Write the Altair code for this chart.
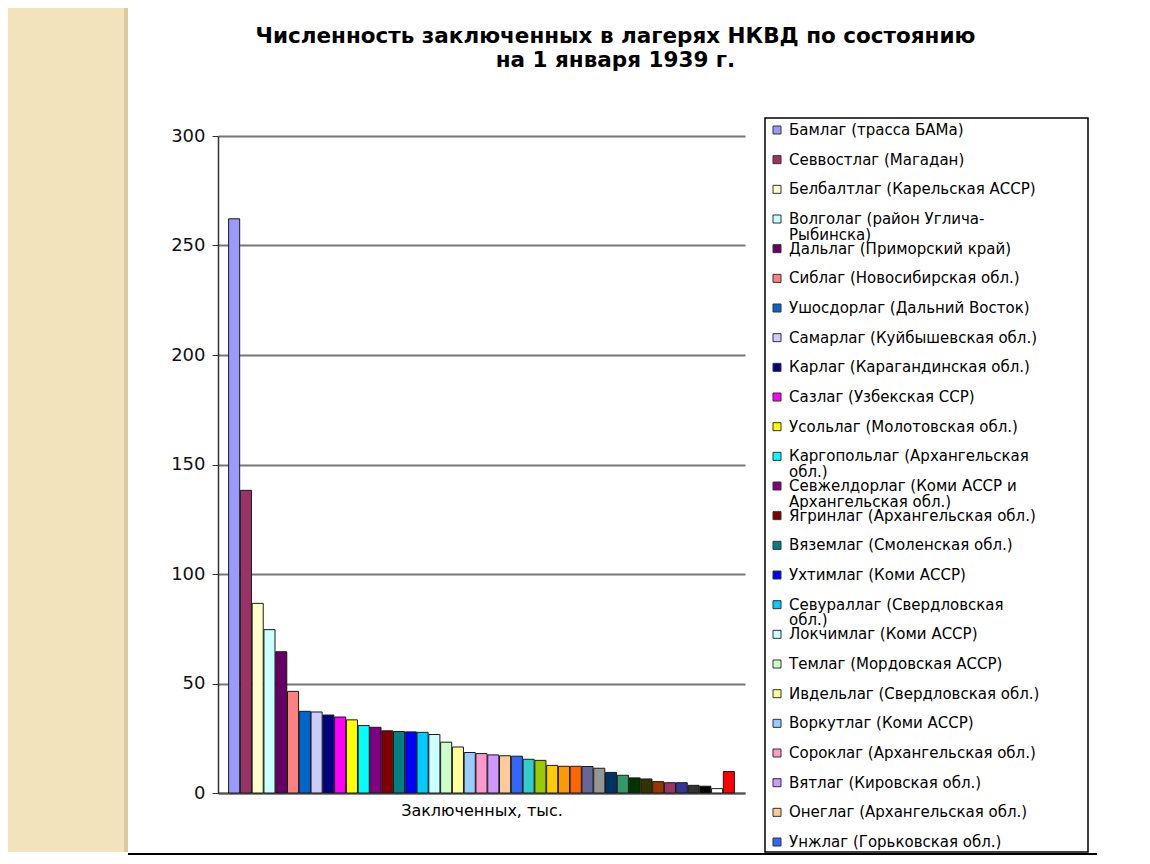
import altair as alt
import pandas as pd

FONT = "DejaVu Sans"

title_lines = ["Численность заключенных в лагерях НКВД по состоянию", "на 1 января 1939 г."]
x_title = "Заключенных, тыс."
y_ticks = [0, 50, 100, 150, 200, 250, 300]

camps = [
    "Бамлаг (трасса БАМа)",
    "Севвостлаг (Магадан)",
    "Белбалтлаг (Карельская АССР)",
    "Волголаг (район Углича-Рыбинска)",
    "Дальлаг (Приморский край)",
    "Сиблаг (Новосибирская обл.)",
    "Ушосдорлаг (Дальний Восток)",
    "Самарлаг (Куйбышевская обл.)",
    "Карлаг (Карагандинская обл.)",
    "Сазлаг (Узбекская ССР)",
    "Усольлаг (Молотовская обл.)",
    "Каргопольлаг (Архангельская обл.)",
    "Севжелдорлаг (Коми АССР и Архангельская обл.)",
    "Ягринлаг (Архангельская обл.)",
    "Вяземлаг (Смоленская обл.)",
    "Ухтимлаг (Коми АССР)",
    "Севураллаг (Свердловская обл.)",
    "Локчимлаг (Коми АССР)",
    "Темлаг (Мордовская АССР)",
    "Ивдельлаг (Свердловская обл.)",
    "Воркутлаг (Коми АССР)",
    "Сороклаг (Архангельская обл.)",
    "Вятлаг (Кировская обл.)",
    "Онеглаг (Архангельская обл.)",
    "Унжлаг (Горьковская обл.)",
    "Устьвымлаг (Коми АССР)",
    "Тайшетлаг (Иркутская обл.)",
    "Краслаг (Красноярский край)",
    "Норильлаг (Красноярский край)",
    "Кулойлаг (Архангельская обл.)",
    "Томасинлаг (Свердловская обл.)",
    "Ныроблаг (Молотовская обл.)",
    "Амурлаг (Хабаровский край)",
    "Райчихлаг (Хабаровский край)",
    "Буреялаг (Хабаровский край)",
    "Южлаг (Хабаровский край)",
    "Западлаг (Хабаровский край)",
    "Восточлаг (Хабаровский край)",
    "Ухтижемлаг (Коми АССР)",
    "Соликамлаг (Молотовская обл.)",
    "Тагиллаг (Свердловская обл.)",
    "Прочие лагеря",
    "Колонии",
]

prisoners = [
    262.2, 138.2, 86.6, 74.6, 64.5, 46.4, 37.3, 37.0, 35.6, 34.7,
    33.4, 30.8, 30.0, 28.4, 28.1, 27.9, 27.7, 26.7, 23.2, 21.0,
    18.5, 18.0, 17.4, 17.0, 16.8, 15.4, 14.9, 12.6, 12.2, 12.2,
    12.1, 11.3, 9.4, 8.1, 6.9, 6.4, 5.2, 4.7, 4.7, 3.5,
    3.1, 2.0, 9.8,
]

colors = [
    "#9999FF", "#993366", "#FFFFCC", "#CCFFFF", "#660066", "#FF8080", "#0066CC", "#CCCCFF",
    "#000080", "#FF00FF", "#FFFF00", "#00FFFF", "#800080", "#800000", "#008080", "#0000FF",
    "#00CCFF", "#CCFFFF", "#CCFFCC", "#FFFF99", "#99CCFF", "#FF99CC", "#CC99FF", "#FFCC99",
    "#3366FF", "#33CCCC", "#99CC00", "#FFCC00", "#FF9900", "#FF6600", "#666699", "#969696",
    "#003366", "#339966", "#003300", "#333300", "#993300", "#993366", "#333399", "#333333",
    "#000000", "#FFFFFF", "#FF0000",
]

legend_labels = [
    "Бамлаг (трасса БАМа)",
    "Севвостлаг (Магадан)",
    "Белбалтлаг (Карельская АССР)",
    "Волголаг (район Углича-\nРыбинска)",
    "Дальлаг (Приморский край)",
    "Сиблаг (Новосибирская обл.)",
    "Ушосдорлаг (Дальний Восток)",
    "Самарлаг (Куйбышевская обл.)",
    "Карлаг (Карагандинская обл.)",
    "Сазлаг (Узбекская ССР)",
    "Усольлаг (Молотовская обл.)",
    "Каргопольлаг (Архангельская\nобл.)",
    "Севжелдорлаг (Коми АССР и\nАрхангельская обл.)",
    "Ягринлаг (Архангельская обл.)",
    "Вяземлаг (Смоленская обл.)",
    "Ухтимлаг (Коми АССР)",
    "Севураллаг (Свердловская\nобл.)",
    "Локчимлаг (Коми АССР)",
    "Темлаг (Мордовская АССР)",
    "Ивдельлаг (Свердловская обл.)",
    "Воркутлаг (Коми АССР)",
    "Сороклаг (Архангельская обл.)",
    "Вятлаг (Кировская обл.)",
    "Онеглаг (Архангельская обл.)",
    "Унжлаг (Горьковская обл.)",
]

n_leg = len(legend_labels)
bars_df = pd.DataFrame({"camp": camps, "value": prisoners})
legend_df = pd.DataFrame({"idx": list(range(n_leg)), "camp": camps[:n_leg], "label": legend_labels})
one = pd.DataFrame({"k": [0]})

color_scale = alt.Scale(domain=camps, range=colors)

PLOT_W, PLOT_H = 527, 657

# ---- decorative strip on the left ----
strip_base = alt.Chart(one)
strip = alt.layer(
    strip_base.mark_rect(color="#F2E3BC").encode(
        x=alt.value(0), x2=alt.value(120), y=alt.value(-128), y2=alt.value(716)),
    strip_base.mark_rect(color="#DCCBA0").encode(
        x=alt.value(116), x2=alt.value(120), y=alt.value(-128), y2=alt.value(716)),
    strip_base.mark_rule(color="#000000", strokeWidth=2).encode(
        x=alt.value(120), x2=alt.value(1089), y=alt.value(718)),
).properties(width=190, height=PLOT_H)

# ---- bar chart ----
bars = alt.Chart(bars_df).mark_bar(stroke="#1a1a1a", strokeWidth=1).encode(
    x=alt.X("camp:N", sort=None,
            scale=alt.Scale(paddingInner=0.06, paddingOuter=0.9),
            axis=alt.Axis(labels=False, ticks=False, domainColor="#555555", domainWidth=2,
                          title=x_title, titleFont=FONT, titleFontSize=16,
                          titleFontWeight="normal", titlePadding=9, titleColor="#000000")),
    y=alt.Y("value:Q", scale=alt.Scale(domain=[0, 300], nice=False),
            axis=alt.Axis(values=y_ticks, grid=True, gridColor="#777777", gridWidth=2,
                          domainColor="#333333", domainWidth=1.5, tickColor="#333333",
                          tickSize=6, labelFont=FONT, labelFontSize=18, labelColor="#111111",
                          labelPadding=7, title=None)),
    color=alt.Color("camp:N", scale=color_scale, legend=None),
    tooltip=["camp:N", "value:Q"],
).properties(
    width=PLOT_W, height=PLOT_H,
    title=alt.TitleParams(text=title_lines, font=FONT, fontSize=21.5, fontWeight="bold",
                          anchor="middle", frame="group", dx=134, offset=56,
                          lineHeight=24, color="#000000"),
)

# ---- hand-made legend ----
step = 29.667
d0 = 6 / step
d1 = d0 + PLOT_H / step
leg_y = alt.Y("idx:Q", scale=alt.Scale(domain=[d0, d1], reverse=True, nice=False, zero=False),
              axis=None)

legend_box = alt.Chart(one).mark_rect(fill="#FFFFFF", stroke="#000000", strokeWidth=1.5).encode(
    x=alt.value(0), x2=alt.value(323), y=alt.value(-18), y2=alt.value(716))
legend_sq = alt.Chart(legend_df).mark_square(size=64, stroke="#333333", strokeWidth=1,
                                             opacity=1).encode(
    x=alt.value(12), y=leg_y,
    color=alt.Color("camp:N", scale=color_scale, legend=None))
legend_tx = alt.Chart(legend_df).mark_text(align="left", baseline="alphabetic", dy=5,
                                           font=FONT, fontSize=15, lineBreak="\n",
                                           lineHeight=15.5, color="#000000").encode(
    x=alt.value(24), y=leg_y, text="label:N")

legend = alt.layer(legend_box, legend_sq, legend_tx).properties(width=323, height=PLOT_H)

chart = alt.hconcat(strip, bars, legend, spacing=20, bounds="flush").properties(
    padding={"left": 0, "top": 0, "right": 0, "bottom": 0},
    background="#FFFFFF",
).configure_view(stroke=None)

chart.save("out.html", embed_options={"renderer": "svg", "actions": False})
